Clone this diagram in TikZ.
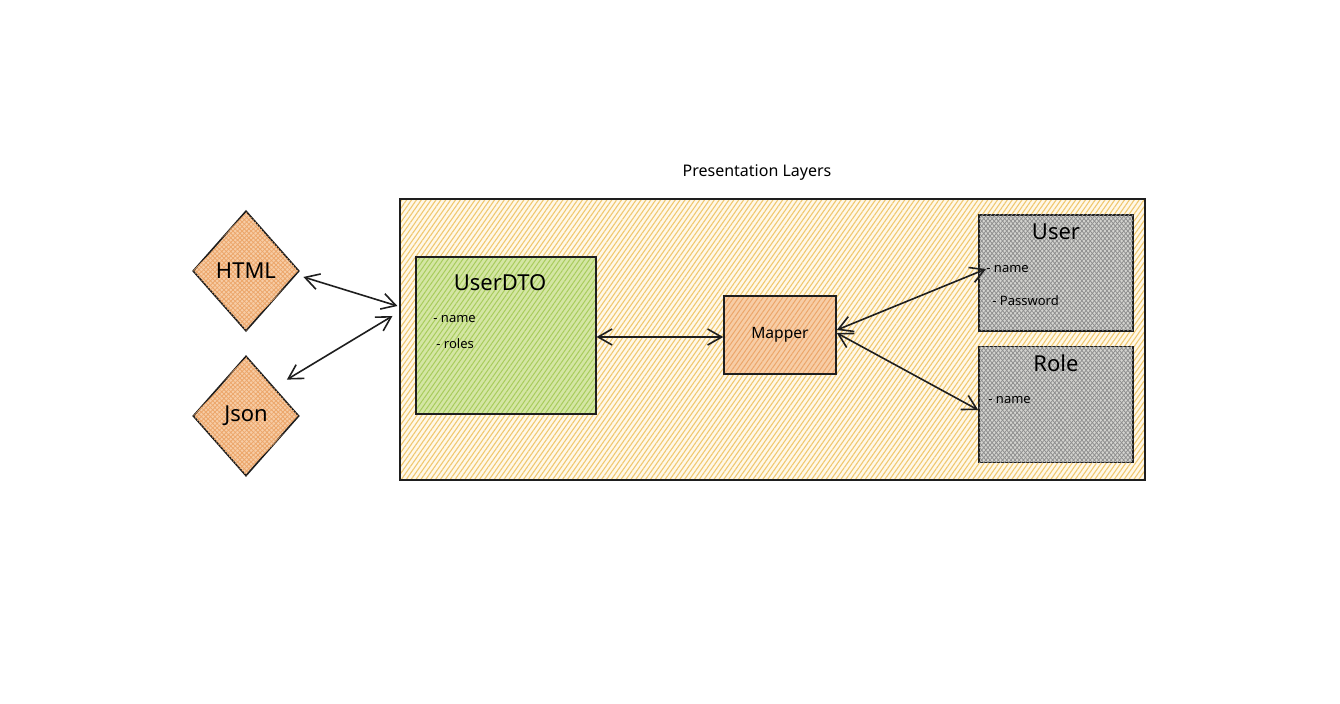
\documentclass[tikz,border=0pt]{standalone}
\usepackage{fontspec}
\setmainfont{Noto Sans}
\usetikzlibrary{shapes.geometric,arrows.meta,patterns.meta}
\definecolor{hatchyel}{HTML}{F0C870}
\definecolor{bgyel}{HTML}{FFF8E8}
\definecolor{hatchgrn}{HTML}{A8CC5C}
\definecolor{bggrn}{HTML}{D4E6A4}
\definecolor{hatchora}{HTML}{ECA66A}
\definecolor{bgora}{HTML}{F7CDA6}
\definecolor{hatchgry}{HTML}{8E8E8E}
\definecolor{bggry}{HTML}{D4D4D0}
\definecolor{ink}{HTML}{1E1E1E}
\tikzset{
  outline/.style={draw=ink, line width=0.8pt},
  layerbox/.style={outline, rectangle, inner sep=0pt, minimum width=372.5pt, minimum height=140.5pt,
    preaction={fill=bgyel}, pattern={Lines[angle=55,distance=2pt,line width=0.55pt]}, pattern color=hatchyel},
  dtobox/.style={outline, rectangle, inner sep=0pt, minimum width=90pt, minimum height=78.5pt,
    preaction={fill=bggrn}, pattern={Lines[angle=55,distance=2pt,line width=0.5pt]}, pattern color=hatchgrn},
  mapbox/.style={outline, rectangle, inner sep=0pt, minimum width=56pt, minimum height=39pt,
    preaction={fill=bgora}, pattern={Lines[angle=55,distance=2pt,line width=0.5pt]}, pattern color=hatchora},
  entbox/.style={outline, rectangle, inner sep=0pt, minimum width=77pt, minimum height=58pt,
    preaction={fill=bggry}, postaction={pattern={Lines[angle=50,distance=1.6pt,line width=0.4pt]}, pattern color=hatchgry},
    pattern={Lines[angle=-50,distance=1.6pt,line width=0.4pt]}, pattern color=hatchgry},
  fmtdia/.style={outline, diamond, inner sep=0pt, minimum width=53pt, minimum height=60pt, aspect=0.88,
    preaction={fill=bgora}, postaction={pattern={Lines[angle=45,distance=1.6pt,line width=0.4pt]}, pattern color=hatchora},
    pattern={Lines[angle=-45,distance=1.6pt,line width=0.4pt]}, pattern color=hatchora, font=\fontsize{11}{13}\selectfont},
  bigtitle/.style={font=\fontsize{11}{13}\selectfont, inner sep=0pt},
  field/.style={font=\fontsize{6.5}{8}\selectfont, inner sep=0pt, anchor=west},
  link/.style={draw=ink, line width=0.8pt, {Straight Barb[length=7pt,width=8pt]}-{Straight Barb[length=7pt,width=8pt]}},
}
\begin{document}
\begin{tikzpicture}[x=0.5pt,y=-0.5pt]
\useasboundingbox (0,0) rectangle (1340,704);
\node[font=\fontsize{8}{10}\selectfont] (title) at (757,173) {Presentation Layers};
\node[layerbox] (layer) at (772.5,339.5) {};
\node[fmtdia] (html) at (246,271) {HTML};
\node[fmtdia] (json) at (246,416) {Json};
\node[dtobox] (dto) at (506,335.5) {};
\node[bigtitle] (dtot) at (500,283) {UserDTO};
\node[field] (dton) at (433,319) {- name};
\node[field] (dtor) at (436,344) {- roles};
\node[mapbox, font=\fontsize{7.8}{9}\selectfont] (mapper) at (780,335) {Mapper};
\node[entbox] (user) at (1056,273) {};
\node[bigtitle] (usert) at (1056,232) {User};
\node[field] (usern) at (986,269) {- name};
\node[field] (userp) at (992,301) {- Password};
\node[entbox] (role) at (1056,404.5) {};
\node[bigtitle] (rolet) at (1056,363) {Role};
\node[field] (rolen) at (988,400) {- name};
\draw[link] ([xshift=2pt]html.east |- 0,277) -- ([xshift=-1pt]layer.west |- 0,306);
\draw[link] ([shift={(7pt,3pt)}]json.north east) -- ([xshift=-3.5pt]layer.west |- 0,316);
\draw[link] (dto.east |- 0,337) -- (mapper.west |- 0,337);
\draw[link] (mapper.east |- 0,330) -- (usern.west);
\draw[link] (mapper.east |- 0,333) -- (role.west |- 0,410);
\end{tikzpicture}
\end{document}
